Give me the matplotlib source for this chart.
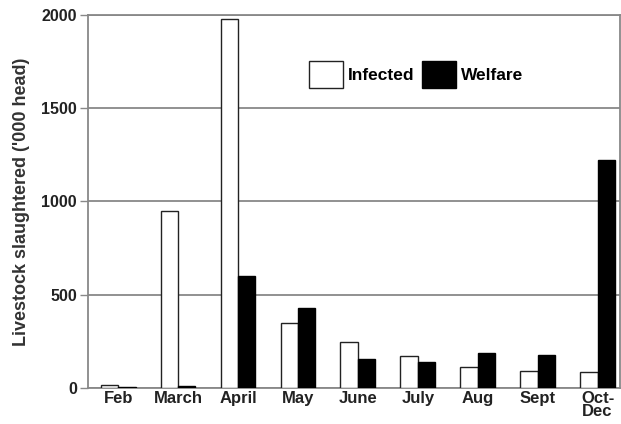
import matplotlib
matplotlib.use("Agg")
import matplotlib.pyplot as plt
import numpy as np

months = ["Feb", "March", "April", "May", "June", "July", "Aug", "Sept", "Oct-\nDec"]
infected = [15, 950, 1980, 350, 245, 170, 115, 90, 85]
welfare = [5, 10, 600, 430, 155, 140, 190, 175, 1220]
yticks = [0, 500, 1000, 1500, 2000]

plt.rcParams['font.family'] = ['Liberation Sans', 'DejaVu Sans']

fig = plt.figure(figsize=(6.21, 4.24), dpi=100)
ax = fig.add_axes([0.142, 0.085, 0.856, 0.88])

x = np.arange(len(months))
w = 0.29
ax.bar(x - w/2, infected, width=w, color='white', edgecolor='#222222', linewidth=1.0, label='Infected', zorder=3)
ax.bar(x + w/2, welfare, width=w, color='black', edgecolor='black', linewidth=1.0, label='Welfare', zorder=3)

ax.set_ylim(0, 2000)
ax.set_xlim(-0.5, 8.37)
ax.set_yticks(yticks)
ax.set_yticklabels([str(v) for v in yticks], fontsize=11.5, fontweight='bold', color='#222222')
ax.yaxis.grid(True, color='#888888', linewidth=1.3, zorder=0)
ax.set_axisbelow(True)
ax.set_xticks(x)
ax.set_xticklabels(months, fontsize=12, fontweight='bold', color='#222222', linespacing=0.85)
ax.tick_params(axis='x', length=0, pad=2)
ax.tick_params(axis='y', length=6, width=1.0, color='#888888', pad=2)
for s in ['left', 'right', 'bottom', 'top']:
    ax.spines[s].set_color('#888888')
    ax.spines[s].set_linewidth(1.3)
ax.set_ylabel("Livestock slaughtered ('000 head)", fontsize=13, fontweight='bold', color='#333333')
ax.yaxis.set_label_coords(-0.11, 0.5)

leg = ax.legend(loc='upper left', bbox_to_anchor=(0.415, 0.875), ncol=2, frameon=False,
                prop={'size': 12.5, 'weight': 'bold'}, handlelength=1.95, handleheight=1.95,
                columnspacing=0.45, handletextpad=0.3, borderaxespad=0, borderpad=0)

fig.savefig("out.png", dpi=100)
